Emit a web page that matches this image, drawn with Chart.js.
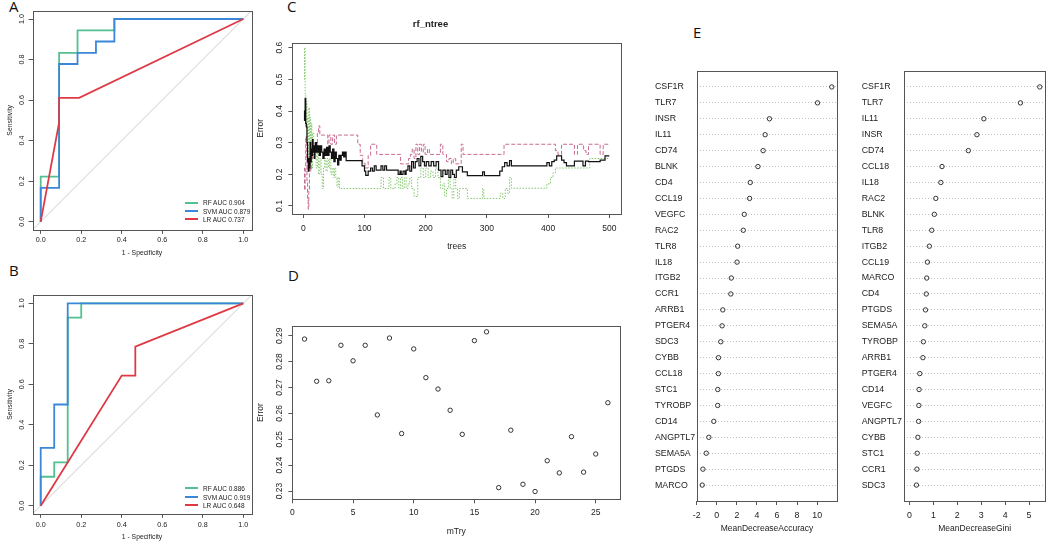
<!DOCTYPE html>
<html>
<head>
<meta charset="utf-8">
<script src="https://cdn.jsdelivr.net/npm/chart.js@4.4.1/dist/chart.umd.min.js"></script>
<style>
body { margin: 0; background: #fff; width: 1052px; height: 547px; overflow: hidden; position: relative; font-family: "Liberation Sans", Arial, sans-serif; }
canvas { position: absolute; }
.tag { position: absolute; font-family: "Open Sans", sans-serif; font-size: 15px; line-height: 1; color: #111; }
.leg { position: absolute; font-size: 6.5px; line-height: 8px; height: 8px; color: #222; white-space: nowrap; }
.leg span { display: inline-block; width: 13px; height: 2px; vertical-align: middle; margin-right: 5px; position: relative; top: -1px; }
</style>
</head>
<body>
<div class="tag" style="left:9px;top:-1px">A</div>
<div class="tag" style="left:9px;top:263px">B</div>
<div class="tag" style="left:287px;top:-1px">C</div>
<div class="tag" style="left:288px;top:268px">D</div>
<div class="tag" style="left:693px;top:25px">E</div>

<script>
// ---- panel A / B : ROC curves ----
var rocModels = ['RF', 'SVM', 'LR'];
var rocColors = ['#52c08f', '#3a87d8', '#df3a44'];
var rocTicks = [0, 0.2, 0.4, 0.6, 0.8, 1];

var rocA_RF_fpr = [0, 0, 0.0909, 0.0909, 0.1818, 0.1818, 0.3636, 0.3636, 1];
var rocA_RF_tpr = [0, 0.222, 0.222, 0.833, 0.833, 0.944, 0.944, 1, 1];
var rocA_SVM_fpr = [0, 0, 0.0909, 0.0909, 0.1818, 0.1818, 0.2727, 0.2727, 0.3636, 0.3636, 1];
var rocA_SVM_tpr = [0, 0.167, 0.167, 0.778, 0.778, 0.833, 0.833, 0.889, 0.889, 1, 1];
var rocA_LR_fpr = [0, 0.0909, 0.0909, 0.19, 1];
var rocA_LR_tpr = [0, 0.49, 0.611, 0.611, 1];
var rocA_auc = [0.904, 0.879, 0.737];

var rocB_RF_fpr = [0, 0, 0.0667, 0.0667, 0.1333, 0.1333, 0.2, 0.2, 1];
var rocB_RF_tpr = [0, 0.143, 0.143, 0.214, 0.214, 0.929, 0.929, 1, 1];
var rocB_SVM_fpr = [0, 0, 0.0667, 0.0667, 0.1333, 0.1333, 1];
var rocB_SVM_tpr = [0, 0.286, 0.286, 0.5, 0.5, 1, 1];
var rocB_LR_fpr = [0, 0.4, 0.467, 0.467, 1];
var rocB_LR_tpr = [0, 0.643, 0.643, 0.786, 1];
var rocB_auc = [0.886, 0.919, 0.648];

// ---- panel C : error vs number of trees, [tree, error] where the value changes ----
var ntreeTicks = [0, 100, 200, 300, 400, 500];
var ntreeErrTicks = [0.1, 0.2, 0.3, 0.4, 0.5, 0.6];
var errOOB = [[1,0.40],[2,0.37],[3,0.44],[4,0.36],[5,0.35],[6,0.30],[7,0.24],[8,0.21],[9,0.25],[10,0.22],[11,0.30],[12,0.24],[13,0.28],[14,0.26],[15,0.31],[16,0.27],[17,0.29],[18,0.25],[19,0.27],[20,0.30],[22,0.27],[24,0.29],[26,0.26],[28,0.29],[30,0.27],[32,0.25],[34,0.28],[36,0.26],[38,0.285],[40,0.26],[42,0.29],[44,0.27],[46,0.25],[48,0.28],[50,0.24],[52,0.27],[54,0.25],[56,0.23],[58,0.26],[60,0.245],[62,0.26],[64,0.27],[66,0.255],[68,0.27],[70,0.243],[96,0.227],[100,0.21],[102,0.197],[106,0.21],[110,0.22],[113,0.21],[116,0.227],[119,0.213],[127,0.227],[130,0.213],[133,0.227],[136,0.213],[155,0.2],[158,0.21],[160,0.2],[163,0.21],[166,0.2],[168,0.213],[171,0.227],[174,0.21],[177,0.24],[180,0.22],[183,0.24],[186,0.25],[189,0.227],[192,0.257],[195,0.24],[198,0.227],[201,0.24],[205,0.227],[209,0.24],[213,0.227],[217,0.24],[221,0.213],[225,0.193],[228,0.213],[232,0.2],[235,0.213],[238,0.19],[241,0.213],[244,0.2],[247,0.19],[250,0.213],[254,0.224],[260,0.208],[268,0.196],[293,0.208],[296,0.196],[321,0.21],[325,0.224],[329,0.237],[333,0.227],[337,0.243],[340,0.227],[398,0.237],[402,0.227],[406,0.24],[410,0.245],[414,0.258],[422,0.245],[426,0.237],[430,0.227],[443,0.242],[457,0.227],[461,0.242],[466,0.24],[485,0.245],[493,0.258],[500,0.258]];
var errClass1 = [[1,0.22],[2,0.15],[3,0.2],[4,0.32],[5,0.25],[6,0.18],[7,0.12],[8,0.09],[9,0.15],[10,0.22],[11,0.27],[12,0.21],[13,0.3],[14,0.25],[15,0.29],[17,0.26],[19,0.30],[21,0.27],[23,0.33],[25,0.353],[27,0.324],[40,0.295],[42,0.324],[45,0.295],[48,0.324],[51,0.295],[54,0.324],[89,0.295],[93,0.26],[97,0.235],[101,0.22],[106,0.26],[110,0.295],[120,0.263],[159,0.233],[172,0.25],[175,0.263],[178,0.28],[181,0.25],[184,0.295],[187,0.263],[190,0.295],[193,0.27],[196,0.295],[199,0.263],[203,0.28],[206,0.263],[224,0.295],[228,0.263],[234,0.24],[238,0.25],[242,0.233],[245,0.25],[249,0.233],[258,0.295],[261,0.263],[328,0.295],[412,0.275],[416,0.263],[422,0.295],[443,0.263],[448,0.295],[458,0.275],[462,0.263],[466,0.295],[485,0.263],[490,0.295],[500,0.295]];
var errClass2 = [[1,0.5],[2,0.6],[3,0.45],[4,0.35],[5,0.43],[6,0.3],[7,0.38],[8,0.25],[9,0.41],[10,0.3],[11,0.38],[12,0.25],[13,0.36],[14,0.22],[15,0.33],[17,0.25],[19,0.3],[21,0.22],[23,0.27],[25,0.2],[27,0.25],[29,0.2],[31,0.155],[33,0.22],[35,0.25],[37,0.21],[39,0.25],[41,0.22],[43,0.25],[45,0.2],[47,0.22],[49,0.19],[51,0.22],[53,0.19],[55,0.16],[57,0.19],[59,0.155],[127,0.19],[131,0.155],[140,0.19],[143,0.155],[150,0.17],[153,0.19],[156,0.155],[159,0.19],[162,0.155],[165,0.19],[168,0.155],[171,0.17],[174,0.19],[177,0.155],[181,0.13],[187,0.19],[192,0.22],[196,0.19],[200,0.22],[204,0.19],[208,0.21],[212,0.19],[216,0.22],[220,0.19],[224,0.155],[228,0.17],[231,0.13],[234,0.155],[237,0.19],[240,0.155],[243,0.124],[246,0.19],[249,0.155],[252,0.124],[255,0.155],[268,0.124],[293,0.155],[295,0.124],[322,0.14],[326,0.124],[330,0.155],[334,0.14],[337,0.19],[340,0.156],[398,0.17],[404,0.19],[408,0.205],[412,0.22],[468,0.25],[500,0.25]];

// ---- panel D : error vs mtry ----
var mtryValues = [1,2,3,4,5,6,7,8,9,10,11,12,13,14,15,16,17,18,19,20,21,22,23,24,25,26];
var mtryErr = [0.2887,0.2724,0.2726,0.2863,0.2803,0.2863,0.2594,0.2891,0.2522,0.2849,0.2738,0.2694,0.2612,0.2519,0.2881,0.2915,0.2313,0.2535,0.2326,0.2298,0.2417,0.2370,0.2510,0.2373,0.2443,0.2641];
var mtryTicks = [0, 5, 10, 15, 20, 25];
var mtryErrTicks = [0.23, 0.24, 0.25, 0.26, 0.27, 0.28, 0.29];

// ---- panel E : variable importance ----
var accGenes = ['CSF1R','TLR7','INSR','IL11','CD74','BLNK','CD4','CCL19','VEGFC','RAC2','TLR8','IL18','ITGB2','CCR1','ARRB1','PTGER4','SDC3','CYBB','CCL18','STC1','TYROBP','CD14','ANGPTL7','SEMA5A','PTGDS','MARCO'];
var accValues = [11.46,10.04,5.25,4.82,4.62,4.10,3.34,3.27,2.74,2.64,2.08,2.02,1.45,1.40,0.60,0.53,0.40,0.17,0.16,0.10,0.09,-0.30,-0.79,-1.05,-1.38,-1.45];
var accTicks = [-2, 0, 2, 4, 6, 8, 10];
var giniGenes = ['CSF1R','TLR7','IL11','INSR','CD74','CCL18','IL18','RAC2','BLNK','TLR8','ITGB2','CCL19','MARCO','CD4','PTGDS','SEMA5A','TYROBP','ARRB1','PTGER4','CD14','VEGFC','ANGPTL7','CYBB','STC1','CCR1','SDC3'];
var giniValues = [5.45,4.64,3.11,2.82,2.46,1.36,1.31,1.10,1.04,0.93,0.83,0.75,0.72,0.70,0.67,0.64,0.58,0.56,0.43,0.40,0.39,0.38,0.35,0.32,0.31,0.29];
var giniTicks = [0, 1, 2, 3, 4, 5];

var FONT = '"Liberation Sans", Arial, sans-serif';
Chart.defaults.font.family = FONT;
Chart.defaults.color = '#222';
Chart.defaults.animation = false;
Chart.defaults.plugins.legend.display = false;
Chart.defaults.plugins.tooltip.enabled = false;

var boxPlugin = {
    id: 'box',
    afterDatasetsDraw: function(chart) {
        var a = chart.chartArea, ctx = chart.ctx;
        ctx.save();
        ctx.strokeStyle = '#555';
        ctx.lineWidth = 1;
        ctx.strokeRect(Math.round(a.left) + 0.5, Math.round(a.top) + 0.5, Math.round(a.right - a.left), Math.round(a.bottom - a.top));
        ctx.restore();
    }
};

function widest(labels, size) {
    var c = document.createElement('canvas').getContext('2d');
    c.font = size + 'px ' + FONT;
    var w = 0;
    for (var i = 0; i < labels.length; i++) w = Math.max(w, c.measureText(labels[i]).width);
    return w;
}

function pairs(xs, ys) {
    var out = [];
    for (var i = 0; i < xs.length; i++) out.push({x: xs[i], y: ys[i]});
    return out;
}

var TL = 4;

function panel(p) {
    var cv = document.createElement('canvas');
    cv.width = p.rect.w;
    cv.height = p.rect.h;
    cv.style.left = p.rect.x + 'px';
    cv.style.top = p.rect.y + 'px';
    document.body.appendChild(cv);

    var padL = p.padL || 0;
    var kFs = p.tickSize, tFs = p.titleSize;
    var titleOpt = {display: false};
    if (p.title) {
        var lh = p.title.size * 1.2;
        titleOpt = {display: true, text: p.title.text, color: '#222',
            font: {size: p.title.size, weight: 'bold'},
            padding: {top: p.title.y - p.rect.y - lh / 2, bottom: p.box.t - p.title.y - lh / 2}};
    }

    var xScale = {
        type: 'linear', min: p.xMin, max: p.xMax,
        afterBuildTicks: function(s) { s.ticks = p.xTicks.map(function(v) { return {value: v}; }); },
        afterFit: function(s) { s.height = p.rect.y + p.rect.h - p.box.b; },
        grid: {drawOnChartArea: false, drawTicks: true, tickLength: TL, color: '#555'},
        border: {display: false},
        ticks: {font: {size: kFs}, padding: p.xTickY - p.box.b - TL - kFs * 0.6, maxRotation: 0, autoSkip: false, callback: p.xFmt},
        title: {display: true, text: p.xTitle, font: {size: tFs}, padding: {top: 0, bottom: p.rect.y + p.rect.h - p.xTitleY - tFs * 0.6}}
    };

    var yScale;
    if (p.yNames) {
        yScale = {
            type: 'linear', min: 0, max: p.yNames.length + 1, reverse: true,
            afterBuildTicks: function(s) { s.ticks = p.yNames.map(function(n, i) { return {value: i + 1}; }); },
            afterFit: function(s) { s.width = p.box.l - p.rect.x - padL; },
            grid: {drawOnChartArea: true, drawTicks: false, color: '#c2c2c2', lineWidth: 1},
            border: {display: false, dash: [1, 2]},
            ticks: {font: {size: kFs}, crossAlign: 'far', padding: 0, autoSkip: false,
                callback: function(v) { return p.yNames[v - 1]; }}
        };
    } else {
        var yLabels = p.yTicks.map(p.yFmt);
        yScale = {
            type: 'linear', min: p.yMin, max: p.yMax,
            afterBuildTicks: function(s) { s.ticks = p.yTicks.map(function(v) { return {value: v}; }); },
            afterFit: function(s) { s.width = p.box.l - p.rect.x - padL; },
            grid: {drawOnChartArea: false, drawTicks: true, tickLength: TL, color: '#555'},
            border: {display: false},
            ticks: {font: {size: kFs}, minRotation: 90, maxRotation: 90, crossAlign: 'center', autoSkip: false,
                padding: p.box.l - TL - p.yTickX - widest(yLabels, kFs) / 2, callback: p.yFmt},
            title: {display: true, text: p.yTitle, font: {size: tFs}, padding: {top: p.yTitleX - p.rect.x - padL - tFs * 0.6, bottom: 0}}
        };
    }

    var topPad = p.title ? 0 : p.box.t - p.rect.y;
    return new Chart(cv, {
        type: p.type || 'line',
        data: {datasets: p.datasets},
        options: {
            responsive: false,
            layout: {padding: {left: padL, top: topPad, right: p.rect.x + p.rect.w - p.box.r, bottom: 0}},
            plugins: {title: titleOpt},
            scales: {x: xScale, y: yScale}
        },
        plugins: [boxPlugin]
    });
}

function rocDatasets(curves) {
    var ds = [];
    for (var i = curves.length - 1; i >= 0; i--) {
        ds.push({data: pairs(curves[i][0], curves[i][1]), borderColor: rocColors[i], borderWidth: 1.8,
            pointRadius: 0, tension: 0, fill: false});
    }
    ds.push({data: [{x: -0.04, y: -0.04}, {x: 1.04, y: 1.04}], borderColor: '#cdcdcd', borderWidth: 1, pointRadius: 0});
    return ds;
}

function rocLegend(aucs, x, rowsY) {
    for (var i = 0; i < rocModels.length; i++) {
        var d = document.createElement('div');
        d.className = 'leg';
        d.style.left = x + 'px';
        d.style.top = (rowsY[i] - 4) + 'px';
        d.innerHTML = '<span style="background:' + rocColors[i] + '"></span>' + rocModels[i] + ' AUC ' + aucs[i].toFixed(3);
        document.body.appendChild(d);
    }
}

var fmt1 = function(v) { return v.toFixed(1); };
var fmt2 = function(v) { return v.toFixed(2); };
var fmt0 = function(v) { return String(v); };

// A
panel({
    rect: {x: 0, y: 0, w: 258, h: 262}, box: {l: 32.6, t: 10.9, r: 251.4, b: 229.8},
    tickSize: 7.2, titleSize: 6.8,
    xMin: -0.04, xMax: 1.04, xTicks: rocTicks, xFmt: fmt1, xTitle: '1 - Specificity', xTickY: 240, xTitleY: 253.3,
    yMin: -0.04, yMax: 1.04, yTicks: rocTicks, yFmt: fmt1, yTitle: 'Sensitivity', yTickX: 21.7, yTitleX: 10,
    datasets: rocDatasets([[rocA_RF_fpr, rocA_RF_tpr], [rocA_SVM_fpr, rocA_SVM_tpr], [rocA_LR_fpr, rocA_LR_tpr]])
});
rocLegend(rocA_auc, 185, [203.3, 211.7, 220]);

// B
panel({
    rect: {x: 0, y: 265, w: 258, h: 282}, box: {l: 32.6, t: 295.2, r: 251.4, b: 513.8},
    tickSize: 7.2, titleSize: 6.8,
    xMin: -0.04, xMax: 1.04, xTicks: rocTicks, xFmt: fmt1, xTitle: '1 - Specificity', xTickY: 525.5, xTitleY: 536.7,
    yMin: -0.04, yMax: 1.04, yTicks: rocTicks, yFmt: fmt1, yTitle: 'Sensitivity', yTickX: 21.7, yTitleX: 10,
    datasets: rocDatasets([[rocB_RF_fpr, rocB_RF_tpr], [rocB_SVM_fpr, rocB_SVM_tpr], [rocB_LR_fpr, rocB_LR_tpr]])
});
rocLegend(rocB_auc, 185, [489, 497.7, 505.7]);

// C
function treeData(arr) { return arr.map(function(d) { return {x: d[0], y: d[1]}; }); }
panel({
    rect: {x: 240, y: 0, w: 385, h: 262}, box: {l: 292.4, t: 42.7, r: 621, b: 214},
    title: {text: 'rf_ntree', size: 9.5, y: 24},
    tickSize: 8.5, titleSize: 8.5,
    xMin: -17.8, xMax: 519.1, xTicks: ntreeTicks, xFmt: fmt0, xTitle: 'trees', xTickY: 228.3, xTitleY: 246.7,
    yMin: 0.0747, yMax: 0.6158, yTicks: ntreeErrTicks, yFmt: fmt1, yTitle: 'Error', yTickX: 279.3, yTitleX: 260.7,
    datasets: [
        {data: treeData(errOOB), borderColor: '#111', borderWidth: 1.2, pointRadius: 0, stepped: 'before'},
        {data: treeData(errClass1), borderColor: '#c86b92', borderWidth: 1, borderDash: [4, 2], pointRadius: 0, stepped: 'before'},
        {data: treeData(errClass2), borderColor: '#80c76a', borderWidth: 1, borderDash: [1.5, 1.5], pointRadius: 0, stepped: 'before'}
    ]
});

// D
panel({
    type: 'scatter',
    rect: {x: 240, y: 270, w: 385, h: 277}, box: {l: 292.4, t: 326, r: 621, b: 499.3},
    tickSize: 8.5, titleSize: 8.5,
    xMin: 0, xMax: 27, xTicks: mtryTicks, xFmt: fmt0, xTitle: 'mTry', xTickY: 512.7, xTitleY: 531.7,
    yMin: 0.2268, yMax: 0.29375, yTicks: mtryErrTicks, yFmt: fmt2, yTitle: 'Error', yTickX: 279.3, yTitleX: 260.7,
    datasets: [{data: pairs(mtryValues, mtryErr), pointRadius: 2.2, borderWidth: 1, borderColor: '#333', backgroundColor: 'rgba(0,0,0,0)'}]
});

// E
function dotData(vals) { return vals.map(function(v, i) { return {x: v, y: i + 1}; }); }
panel({
    type: 'scatter',
    rect: {x: 650, y: 40, w: 192, h: 507}, padL: 5, box: {l: 697, t: 71, r: 838, b: 501},
    tickSize: 8.8, titleSize: 8.5,
    xMin: -1.97, xMax: 11.98, xTicks: accTicks, xFmt: fmt0, xTitle: 'MeanDecreaseAccuracy', xTickY: 516, xTitleY: 528.3,
    yNames: accGenes,
    datasets: [{data: dotData(accValues), pointRadius: 2.2, borderWidth: 1, borderColor: '#333', backgroundColor: 'rgba(0,0,0,0)'}]
});
panel({
    type: 'scatter',
    rect: {x: 856, y: 40, w: 196, h: 507}, padL: 5.7, box: {l: 904.3, t: 71, r: 1045, b: 501},
    tickSize: 8.8, titleSize: 8.5,
    xMin: -0.218, xMax: 5.668, xTicks: giniTicks, xFmt: fmt0, xTitle: 'MeanDecreaseGini', xTickY: 516, xTitleY: 528.3,
    yNames: giniGenes,
    datasets: [{data: dotData(giniValues), pointRadius: 2.2, borderWidth: 1, borderColor: '#333', backgroundColor: 'rgba(0,0,0,0)'}]
});
</script>
</body>
</html>
